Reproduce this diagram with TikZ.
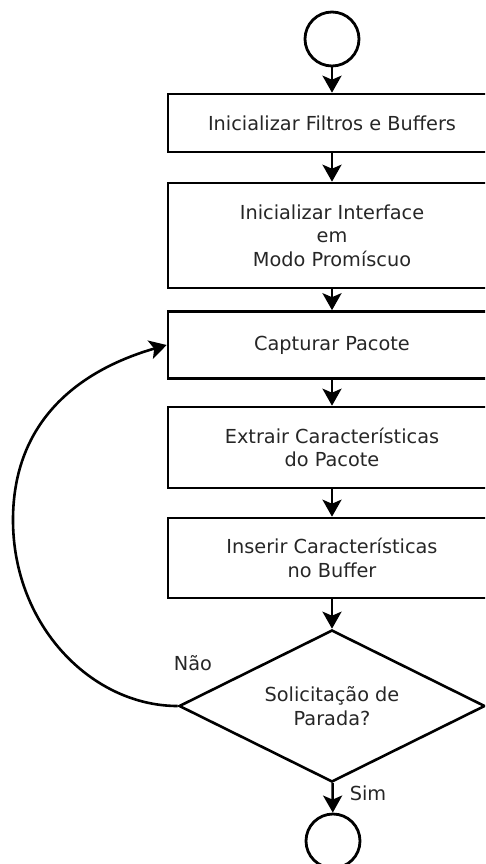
\documentclass[tikz,border=0pt]{standalone}
\usepackage{fontspec}
\setmainfont{DejaVu Sans}
\usetikzlibrary{shapes.geometric,arrows.meta}

\tikzset{
  every node/.style={font=\fontsize{19.3}{23.5}\selectfont, text=black!85},
  stepbox/.style={draw=black, line width=2.6pt, rectangle, minimum width=328pt,
    inner sep=0pt, align=center},
  terminal/.style={draw=black, line width=2.8pt, circle, minimum size=54pt, inner sep=0pt},
  decision/.style={draw=black, line width=2.6pt, diamond, aspect=2,
    minimum width=306pt, minimum height=152pt, inner sep=0pt, align=center},
  arr/.style={line width=2.6pt, -{Stealth[length=17pt,width=19pt,inset=4pt]}},
}

\begin{document}
\begin{tikzpicture}[x=1pt,y=-1pt]
  \useasboundingbox (0,0) rectangle (485,864);
  \clip (0,0) rectangle (485,864);

  % process nodes
  \node[terminal] (start) at (332,39) {};
  \node[stepbox, minimum height=58pt]  (b1) at (332,123) {Inicializar Filtros e Buffers};
  \node[stepbox, minimum height=105pt] (b2) at (332,235.5) {Inicializar Interface\\em\\Modo Promíscuo};
  \node[stepbox, minimum height=67pt]  (b3) at (332,345) {Capturar Pacote};
  \node[stepbox, minimum height=81pt]  (b4) at (332,447.5) {Extrair Características\\do Pacote};
  \node[stepbox, minimum height=80pt]  (b5) at (332,558) {Inserir Características\\no Buffer};
  \node[decision] (dec) at (332,706) {Solicitação de\\Parada?};
  \node[terminal] (stop) at (333,841) {};

  % edge labels
  \node (nao) at (193,663) {Não};
  \node (sim) at (368,793) {Sim};

  % main flow
  \draw[arr] (start) -- (b1);
  \draw[arr] (b1) -- (b2);
  \draw[arr] (b2) -- (b3);
  \draw[arr] (b3) -- (b4);
  \draw[arr] (b4) -- (b5);
  \draw[arr] (b5) -- (dec);
  \draw[arr] (dec) -- (stop);

  % loop back when no stop is requested
  \draw[arr] (dec.west) .. controls (92,706) and (13,626) .. (13,520)
             .. controls (13,420) and (80,370) .. (b3.west);
\end{tikzpicture}
\end{document}
